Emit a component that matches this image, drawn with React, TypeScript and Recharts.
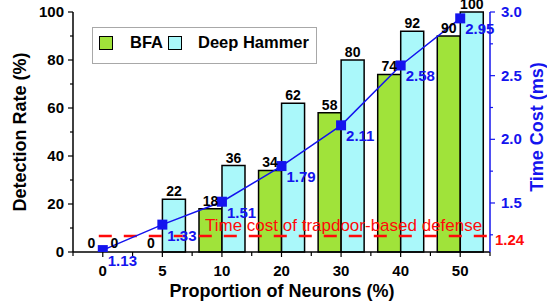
import { Bar, Cell, ComposedChart, LabelList, Line, ReferenceLine, XAxis, YAxis } from "recharts";

const categories = ["0", "5", "10", "20", "30", "40", "50"];
const bfa = [0, 0, 18, 34, 58, 74, 90];
const deepHammer = [0, 22, 36, 62, 80, 92, 100];
const timeCost = [1.13, 1.33, 1.51, 1.79, 2.11, 2.58, 2.95];
const trapdoorCost = 1.24;
const seriesNames = ["BFA", "Deep Hammer"];
const leftTicks = [0, 10, 20, 30, 40, 50, 60, 70, 80, 90, 100];
const rightTicks = [1.25, 1.5, 1.75, 2.0, 2.25, 2.5, 2.75, 3.0];

const W = 547;
const H = 303;
const LEFT = 73;
const RIGHT = 57;
const TOP = 12;
const BOTTOM = 51;
const BAND = (W - LEFT - RIGHT) / categories.length;

const FONT = "'Liberation Sans', Arial, sans-serif";
const GREEN = "#a0e33a";
const CYAN = "#aaf8fa";
const BLUE = "#1414ee";
const RED = "#ff0a0a";

const data = categories.map((cat, i) => ({
  cat,
  bfa: bfa[i],
  dh: deepHammer[i],
  time: timeCost[i],
}));

function LeftTick({ x, y, payload }: any) {
  const major = payload.value % 20 === 0;
  return (
    <g>
      <line x1={x} x2={x - (major ? 5 : 3)} y1={y} y2={y} stroke="#000" strokeWidth={1.2} />
      {major && (
        <text x={x - 9} y={y + 5} textAnchor="end" fontSize={15} fontWeight="bold" fill="#000" fontFamily={FONT}>
          {payload.value}
        </text>
      )}
    </g>
  );
}

function RightTick({ x, y, payload }: any) {
  const major = Math.round(payload.value * 2) === payload.value * 2;
  return (
    <g>
      <line x1={x} x2={x + (major ? 5 : 3)} y1={y} y2={y} stroke={BLUE} strokeWidth={1.2} />
      {major && (
        <text x={x + 11} y={y + 5} textAnchor="start" fontSize={15} fontWeight="bold" fill={BLUE} fontFamily={FONT}>
          {payload.value.toFixed(1)}
        </text>
      )}
    </g>
  );
}

function BottomTick({ x, y, payload, index }: any) {
  const last = index === categories.length - 1;
  return (
    <g>
      <line x1={x} x2={x} y1={y} y2={y + 5} stroke="#000" strokeWidth={1.2} />
      <line x1={x - BAND / 2} x2={x - BAND / 2} y1={y} y2={y + 4} stroke="#000" strokeWidth={1.2} />
      {last && <line x1={x + BAND / 2} x2={x + BAND / 2} y1={y} y2={y + 4} stroke="#000" strokeWidth={1.2} />}
      <text x={x} y={y + 24} textAnchor="middle" fontSize={15} fontWeight="bold" fill="#000" fontFamily={FONT}>
        {payload.value}
      </text>
    </g>
  );
}

function TopTick({ x, y }: any) {
  return (
    <g>
      <line x1={x} x2={x} y1={y} y2={y + 5} stroke="#000" strokeWidth={1.2} />
      <line x1={x - BAND / 2} x2={x - BAND / 2} y1={y} y2={y + 4} stroke="#000" strokeWidth={1.2} />
    </g>
  );
}

function SquareDot({ cx, cy }: any) {
  if (cx == null || cy == null) return null;
  return <rect x={cx - 5} y={cy - 5} width={10} height={10} fill={BLUE} />;
}

function TimeLabel({ x, y, value }: any) {
  return (
    <text x={x + 5} y={y + 16} fontSize={15} fontWeight="bold" fill={BLUE} fontFamily={FONT}>
      {Number(value).toFixed(2)}
    </text>
  );
}

function TrapdoorLine({ x1, y1, x2 }: any) {
  const xs = Math.min(x1, x2);
  const xe = Math.max(x1, x2);
  return (
    <g>
      <line
        x1={xs + BAND / 2 - 4}
        x2={xe}
        y1={y1}
        y2={y1}
        stroke={RED}
        strokeWidth={2.5}
        strokeDasharray="13 12"
      />
      <text x={xs + 132} y={y1 - 5} fontSize={17} fill={RED} fontFamily={FONT}>
        Time cost of trapdoor-based defense
      </text>
      <text x={xe + 5} y={y1 + 9} fontSize={15} fontWeight="bold" fill={RED} fontFamily={FONT}>
        {trapdoorCost.toFixed(2)}
      </text>
    </g>
  );
}

function AxisTitle({ text, px, py, rot = 0, color = "#000" }: any) {
  return (
    <text
      x={px}
      y={py}
      transform={rot ? `rotate(${rot}, ${px}, ${py})` : undefined}
      textAnchor="middle"
      dominantBaseline="central"
      fontSize={18}
      fontWeight="bold"
      fill={color}
      fontFamily={FONT}
    >
      {text}
    </text>
  );
}

const barLabelStyle = { fontSize: 14, fontWeight: "bold", fill: "#000", fontFamily: FONT };

function LegendBox() {
  const swatch = (color: string, left: number) => (
    <div
      style={{
        position: "absolute",
        left,
        top: 8,
        width: 12,
        height: 12,
        background: color,
        border: "1.5px solid #000",
      }}
    />
  );
  const label = (text: string, left: number) => (
    <div
      style={{
        position: "absolute",
        left,
        top: 4,
        fontSize: 16.5,
        fontWeight: "bold",
        fontFamily: FONT,
        lineHeight: "20px",
        whiteSpace: "nowrap",
      }}
    >
      {text}
    </div>
  );
  return (
    <div
      style={{
        position: "absolute",
        left: 92,
        top: 27,
        width: 223,
        height: 35,
        border: "1px solid #a8a8a8",
        background: "#fff",
      }}
    >
      {swatch(GREEN, 6)}
      {label(seriesNames[0], 37)}
      {swatch(CYAN, 75)}
      {label(seriesNames[1], 105)}
    </div>
  );
}

export default function App() {
  return (
    <div style={{ position: "absolute", left: 0, top: 0, width: W, height: H, background: "#fff" }}>
      <ComposedChart
        width={W}
        height={H}
        data={data}
        margin={{ top: TOP, right: 0, left: 0, bottom: 0 }}
        barCategoryGap="11.5%"
        barGap={0}
      >
        <XAxis
          dataKey="cat"
          height={BOTTOM}
          tickSize={0}
          tickMargin={0}
          tick={<BottomTick />}
          axisLine={{ stroke: "#000", strokeWidth: 1.5 }}
          interval={0}
          label={<AxisTitle text="Proportion of Neurons (%)" px={282} py={291} />}
        />
        <XAxis
          xAxisId="top"
          dataKey="cat"
          orientation="top"
          height={0}
          tickSize={0}
          tickMargin={0}
          tick={<TopTick />}
          axisLine={{ stroke: "#000", strokeWidth: 1.5 }}
          interval={0}
        />
        <YAxis
          yAxisId="left"
          width={LEFT}
          domain={[0, 100]}
          ticks={leftTicks}
          interval={0}
          tickSize={0}
          tickMargin={0}
          tick={<LeftTick />}
          axisLine={{ stroke: "#000", strokeWidth: 1.5 }}
          label={<AxisTitle text="Detection Rate (%)" px={20} py={132} rot={-90} />}
        />
        <YAxis
          yAxisId="right"
          orientation="right"
          width={RIGHT}
          domain={[1.115, 3.0]}
          allowDataOverflow
          ticks={rightTicks}
          interval={0}
          tickSize={0}
          tickMargin={0}
          tick={<RightTick />}
          axisLine={{ stroke: BLUE, strokeWidth: 1.5 }}
          label={<AxisTitle text="Time Cost (ms)" px={537} py={127} rot={-90} color={BLUE} />}
        />
        <Bar
          yAxisId="left"
          dataKey="bfa"
          name={seriesNames[0]}
          fill={GREEN}
          stroke="#000"
          strokeWidth={1.5}
          minPointSize={1}
          isAnimationActive={false}
        >
          {bfa.map((v, i) => (
            <Cell key={i} fill={v === 0 ? "none" : GREEN} stroke={v === 0 ? "none" : "#000"} />
          ))}
          <LabelList dataKey="bfa" position="top" offset={3} style={barLabelStyle} />
        </Bar>
        <Bar
          yAxisId="left"
          dataKey="dh"
          name={seriesNames[1]}
          fill={CYAN}
          stroke="#000"
          strokeWidth={1.5}
          minPointSize={1}
          isAnimationActive={false}
        >
          {deepHammer.map((v, i) => (
            <Cell key={i} fill={v === 0 ? "none" : CYAN} stroke={v === 0 ? "none" : "#000"} />
          ))}
          <LabelList dataKey="dh" position="top" offset={3} style={barLabelStyle} />
        </Bar>
        <ReferenceLine yAxisId="right" y={trapdoorCost} shape={<TrapdoorLine />} />
        <Line
          yAxisId="right"
          dataKey="time"
          stroke={BLUE}
          strokeWidth={1.5}
          dot={<SquareDot />}
          activeDot={false}
          isAnimationActive={false}
        >
          <LabelList dataKey="time" content={<TimeLabel />} />
        </Line>
      </ComposedChart>
      <LegendBox />
    </div>
  );
}
